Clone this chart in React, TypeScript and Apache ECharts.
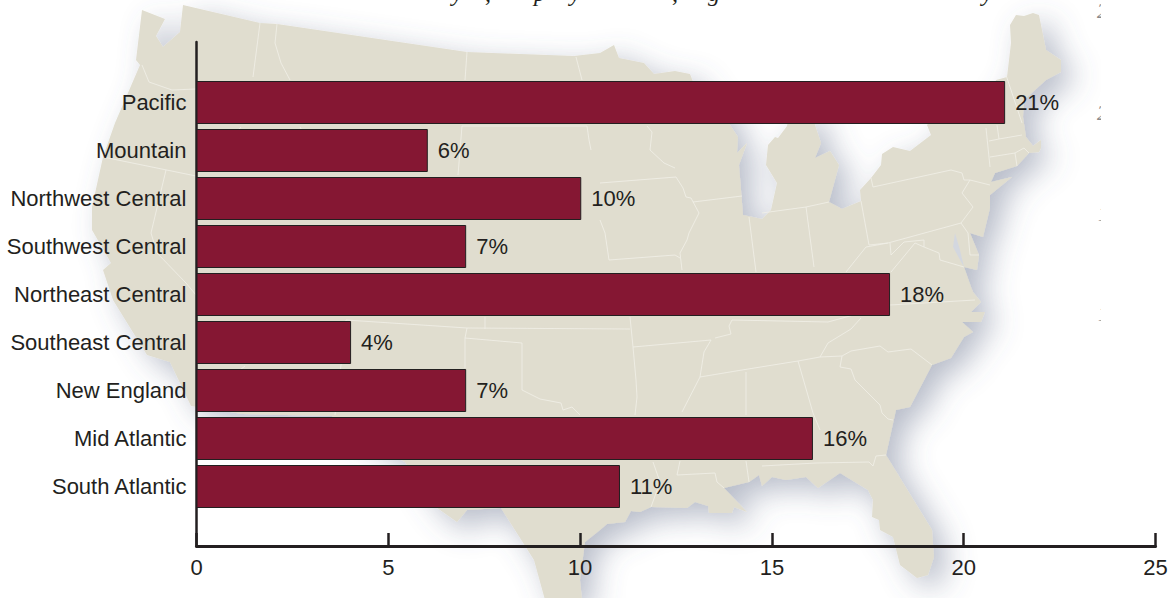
import React, { useEffect, useRef } from "react";
import * as echarts from "echarts";

const categories = ["Pacific", "Mountain", "Northwest Central", "Southwest Central", "Northeast Central", "Southeast Central", "New England", "Mid Atlantic", "South Atlantic"];
const allValues = [21.08, 6.03, 10.03, 7.03, 18.08, 4.03, 7.03, 16.07, 11.04];
const valueLabels = ["21%", "6%", "10%", "7%", "18%", "4%", "7%", "16%", "11%"];
const axisTicks = [0, 5, 10, 15, 20, 25];

const INK = "#231f20";
const BAR = "#851733";
const LAND = "#e0ddcf";
const LINE = "#f1f0e8";

const outline: number[][] = [
  [142,10],[165,19],[156,36],[163,47],[180,32],[183,5],[260,23],[277,24],[467,52],[574,56],[600,53],[614,45],[619,58],[644,63],[654,74],[675,71],[690,74],
  [700,100],[725,105],[730,125],[738,137],[737,153],[747,143],[739,165],[743,215],[762,219],[771,210],[777,183],[766,165],[768,145],[775,137],[778,138],[787,126],
  [790,110],[812,110],[815,125],[821,143],[815,158],[830,151],[839,165],[829,202],[842,209],[861,201],[860,190],[871,178],[881,165],[882,154],[893,147],[910,151],[931,135],[927,125],
  [940,110],[985,110],[996,80],[1007,77],[1011,43],[1010,25],[1016,15],[1024,16],[1033,13],[1039,15],[1046,50],[1061,60],[1061,72],[1046,80],[1024,100],[1023,117],[1026,137],[1033,146],[1041,140],[1041,148],[1039,152],[1029,153],[1017,166],[995,173],[991,182],[1012,177],[990,195],
  [990,208],[983,237],[970,233],[979,255],[977,270],[964,267],[971,287],[973,292],[981,302],[971,312],[985,312],[981,322],[962,322],[973,332],[964,337],[951,358],[932,365],[910,407],[896,410],[886,455],[932,530],[934,557],[928,575],[917,578],[900,565],[893,537],[880,530],[879,520],[872,517],[873,500],[868,490],[840,473],[818,488],[806,477],[786,480],[772,477],[762,486],[759,475],[749,482],[724,488],[747,512],[734,507],[732,513],[709,513],[708,506],[695,502],[687,508],[651,507],[640,512],[631,511],[625,522],[607,524],[600,530],[585,542],[580,580],[582,600],
  [545,600],[534,560],[501,508],[467,510],[457,522],[433,505],[405,462],[340,425],[332,416],[243,414],[191,406],[170,362],[147,355],[113,300],[103,270],[111,263],[92,230],[92,207],[103,157],[115,123],[140,65],[136,60],
];

const borders: number[][][] = [
  [[260,23],[253,77]],
  [[277,24],[275,43],[281,63],[290,80]],
  [[467,52],[465,80]],
  [[576,57],[582,80]],
  [[142,65],[149,82],[172,90],[196,89]],
  [[103,157],[196,176]],
  [[166,170],[151,233],[157,253],[186,283]],
  [[241,127],[235,134]],
  [[300,127],[304,134]],
  [[462,126],[587,126],[589,140],[591,150]],
  [[462,126],[458,175]],
  [[647,126],[652,132],[650,150],[664,163],[675,168]],
  [[600,183],[676,177],[683,188],[686,197],[691,198],[699,213],[689,233],[687,240],[680,253],[682,270]],
  [[693,202],[742,196]],
  [[609,260],[675,255],[680,258]],
  [[600,220],[605,233],[609,260]],
  [[749,217],[756,272]],
  [[806,207],[814,267]],
  [[762,213],[806,207],[829,202]],
  [[861,201],[869,245]],
  [[869,245],[888,243],[866,247],[846,272]],
  [[871,178],[873,187],[951,170],[962,173],[964,180],[970,180],[990,185]],
  [[970,180],[962,193],[973,207],[961,223],[888,243]],
  [[961,223],[968,233],[970,255],[979,255]],
  [[890,243],[891,255],[904,242],[924,240],[924,247],[915,243],[891,272]],
  [[924,247],[939,253],[940,260],[964,267]],
  [[986,128],[990,167]],
  [[997,125],[999,139],[1022,135]],
  [[989,141],[999,139]],
  [[990,157],[1015,153],[1017,166]],
  [[1015,153],[1024,148],[1029,153]],
  [[1006,75],[1022,123]],
  [[630,317],[633,347],[711,340]],
  [[715,338],[731,334],[729,326],[732,320],[828,322],[890,305],[975,300]],
  [[700,377],[742,370],[798,361],[820,357],[842,356]],
  [[820,357],[828,343],[851,329],[861,318]],
  [[842,356],[840,367],[851,369],[855,380],[880,405],[882,413],[888,419],[893,420]],
  [[842,356],[851,351],[880,346],[888,352],[911,349],[932,365]],
  [[633,347],[636,380],[637,397],[635,415]],
  [[711,340],[704,352],[700,377],[682,412]],
  [[746,372],[746,415]],
  [[798,361],[813,413],[820,430]],
  [[816,463],[869,462],[873,466],[876,456],[886,455]],
  [[746,461],[749,482]],
  [[762,466],[816,463]],
  [[653,462],[660,482],[651,507]],
  [[677,475],[680,461]],
  [[677,475],[715,473],[717,482],[724,488]],
  [[346,320],[467,328],[630,329]],
  [[485,317],[485,329]],
  [[467,328],[465,338],[522,343],[522,390],[540,399],[561,403],[563,410],[572,407],[580,415]],
  [[465,338],[465,368]],
  [[346,320],[341,365],[335,415]],
  [[245,366],[240,370]],
  [[186,283],[196,295]],
];

const water: number[][] = [[955,233],[953,247],[964,267],[960,250]];

const titleGlyphs = [
  { t: "y", x: 452 }, { t: ",", x: 485 }, { t: "p", x: 534 }, { t: "y", x: 570 },
  { t: ",", x: 672 }, { t: "g", x: 708 }, { t: "y", x: 982 },
];
const clippedLabels = [
  { t: "2", x: 1097, y: 11 }, { t: "2", x: 1097, y: 113 }, { t: "1", x: 1098, y: 214 }, { t: "1", x: 1098, y: 314 },
];

export default function App() {
  const ref = useRef<HTMLDivElement>(null);
  useEffect(() => {
    const chart = echarts.init(ref.current!, undefined, { renderer: "svg" });
    const map: any[] = [
      {
        type: "polygon",
        z: -5,
        silent: true,
        shape: { points: outline },
        style: {
          fill: LAND,
          shadowBlur: 30,
          shadowOffsetX: 12,
          shadowOffsetY: 10,
          shadowColor: "rgba(88,98,128,0.42)",
        },
      },
      ...borders.map((b) => ({
        type: "polyline",
        z: -4,
        silent: true,
        shape: { points: b },
        style: { stroke: LINE, lineWidth: 0.8, fill: "none" },
      })),
      {
        type: "polygon",
        z: -4,
        silent: true,
        shape: { points: water },
        style: { fill: "#d3d7df" },
      },
      ...titleGlyphs.map((g) => ({
        type: "text",
        z: -3,
        silent: true,
        x: g.x,
        y: 5,
        style: {
          text: g.t,
          fill: INK,
          fontFamily: "Liberation Serif",
          fontStyle: "italic",
          fontSize: 24,
          verticalAlign: "bottom",
        },
      })),
      ...clippedLabels.map((g) => ({
        type: "text",
        z: -3,
        silent: true,
        x: g.x,
        y: g.y,
        style: {
          text: g.t,
          fill: "#8a8a8a",
          fontFamily: "Liberation Serif",
          fontStyle: "italic",
          fontSize: 20,
          verticalAlign: "middle",
        },
      })),
      {
        type: "rect",
        z: -2,
        silent: true,
        shape: { x: 1101, y: 0, width: 70, height: 325 },
        style: { fill: "#fff" },
      },
    ];
    chart.setOption({
      animation: false,
      backgroundColor: "#fff",
      graphic: { elements: map },
      grid: [
        { left: 196.5, width: 959, top: 78.5, height: 432 },
        { left: 196.5, width: 959, top: 42, height: 504 },
      ],
      xAxis: [
        { gridIndex: 0, type: "value", min: 0, max: 25, show: false },
        {
          gridIndex: 1,
          type: "value",
          min: axisTicks[0],
          max: axisTicks[axisTicks.length - 1],
          interval: axisTicks[1],
          position: "bottom",
          axisLine: { show: true, lineStyle: { color: INK, width: 3 } },
          axisTick: { show: true, inside: true, length: 13, lineStyle: { color: INK, width: 2.5 } },
          axisLabel: { color: INK, fontFamily: "Liberation Sans", fontSize: 22, margin: 10 },
          splitLine: { show: false },
        },
      ],
      yAxis: [
        {
          gridIndex: 0,
          type: "category",
          data: categories,
          inverse: true,
          axisLine: { show: false },
          axisTick: { show: false },
          axisLabel: { color: INK, fontFamily: "Liberation Sans", fontSize: 22, margin: 10 },
        },
        {
          gridIndex: 1,
          type: "value",
          min: 0,
          max: 1,
          position: "left",
          axisLine: { show: true, onZero: false, lineStyle: { color: INK, width: 2.5 } },
          axisTick: { show: false },
          axisLabel: { show: false },
          splitLine: { show: false },
        },
      ],
      series: [
        {
          type: "bar",
          xAxisIndex: 0,
          yAxisIndex: 0,
          data: allValues,
          barWidth: 43,
          itemStyle: { color: BAR, borderColor: INK, borderWidth: 1 },
          label: {
            show: true,
            position: "right",
            distance: 10,
            color: INK,
            fontFamily: "Liberation Sans",
            fontSize: 22,
            formatter: (p: any) => valueLabels[p.dataIndex],
          },
        },
      ],
    });
    return () => chart.dispose();
  }, []);
  return <div ref={ref} style={{ position: "fixed", left: 0, top: 0, width: 1171, height: 598 }} />;
}
